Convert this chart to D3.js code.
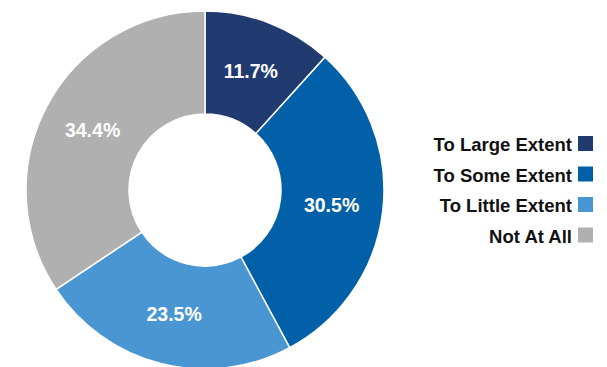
<!DOCTYPE html>
<html>
<head>
<meta charset="utf-8">
<script src="https://cdn.jsdelivr.net/npm/d3@7"></script>
<style>
  body { margin: 0; background: #fff; }
  text { font-family: "Liberation Sans", Arial, sans-serif; font-weight: bold; }
</style>
</head>
<body>
<div id="chart"></div>
<script>
// chart data
let categories = ["To Large Extent", "To Some Extent", "To Little Extent", "Not At All"];
let values = [11.7, 30.5, 23.5, 34.4];
let colors = ["#213a70", "#0260a8", "#4a96d2", "#b0b0b0"];

let total_width = 607;
let total_height = 367;
let cx = 205, cy = 190;
let outer_r = 179, inner_r = 76;

var svg = d3.select("#chart").append("svg")
    .attr("width", total_width)
    .attr("height", total_height);

let data = categories.map((c, i) => ({name: c, value: values[i], color: colors[i]}));

var pie = d3.pie().sort(null).value(d => d.value);
var arc = d3.arc().innerRadius(inner_r).outerRadius(outer_r);

var g = svg.append("g").attr("transform", "translate(" + cx + "," + cy + ")");

g.selectAll("path").data(pie(data)).enter().append("path")
    .attr("d", arc)
    .attr("fill", d => d.data.color)
    .attr("stroke", "#fff")
    .attr("stroke-width", 1.5);

g.selectAll("text").data(pie(data)).enter().append("text")
    .attr("transform", d => "translate(" + arc.centroid(d) + ")")
    .attr("text-anchor", "middle")
    .attr("dy", "0.36em")
    .attr("fill", "#fff")
    .style("font-size", "19.5px")
    .text(d => d.data.value.toFixed(1) + "%");

// legend
let legend_x = 578, legend_y = 136, row_h = 30.5, box = 15;
var legend = svg.append("g");
var rows = legend.selectAll("g").data(data).enter().append("g")
    .attr("transform", (d, i) => "translate(" + legend_x + "," + (legend_y + i * row_h) + ")");
rows.append("rect")
    .attr("width", box)
    .attr("height", box)
    .attr("fill", d => d.color);
rows.append("text")
    .attr("x", -6)
    .attr("y", box)
    .attr("text-anchor", "end")
    .attr("fill", "#111")
    .style("font-size", "18.5px")
    .text(d => d.name);
</script>
</body>
</html>
